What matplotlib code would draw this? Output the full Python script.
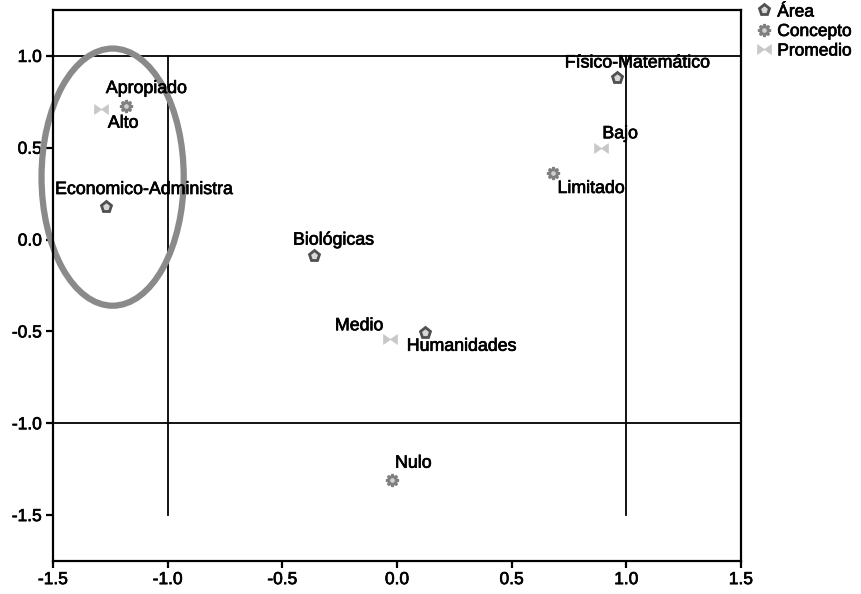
import matplotlib
matplotlib.use("Agg")
import matplotlib.pyplot as plt
from matplotlib.path import Path
from matplotlib.patches import Ellipse
from matplotlib.lines import Line2D
import matplotlib.patheffects as pe

plt.rcParams['font.family'] = ['Liberation Sans', 'DejaVu Sans']

# Data
area_names = ["Físico-Matemático", "Economico-Administra", "Biológicas", "Humanidades"]
area_x = [0.96, -1.27, -0.36, 0.12]
area_y = [0.88, 0.18, -0.09, -0.51]

concepto_names = ["Apropiado", "Limitado", "Nulo"]
concepto_x = [-1.18, 0.68, -0.02]
concepto_y = [0.73, 0.36, -1.31]

promedio_names = ["Alto", "Bajo", "Medio"]
promedio_x = [-1.29, 0.89, -0.03]
promedio_y = [0.71, 0.50, -0.54]

xticks = [-1.5, -1.0, -0.5, 0.0, 0.5, 1.0, 1.5]
yticks = [-1.5, -1.0, -0.5, 0.0, 0.5, 1.0]

# label offsets (pixels): dx, dy
offsets = {
    "Físico-Matemático": (20, 15),
    "Economico-Administra": (38, 17),
    "Biológicas": (19, 16),
    "Humanidades": (37, -13),
    "Apropiado": (20, 17),
    "Limitado": (38, -15),
    "Nulo": (21, 17),
    "Alto": (22, -14),
    "Bajo": (19, 14),
    "Medio": (-31, 13),
}

fig = plt.figure(figsize=(8.61, 5.94), dpi=100)
ax = fig.add_axes([53/861, 33/594, (741-53)/861, (561-10)/594])
ax.set_xlim(-1.5, 1.5)
ax.set_ylim(-1.75, 1.25)

# reference lines
ax.axhline(1.0, color='black', lw=1.3, zorder=1)
ax.axhline(-1.0, color='black', lw=1.3, zorder=1)
ax.plot([-1.0, -1.0], [1.0, -1.5], color='black', lw=1.3, zorder=1)
ax.plot([1.0, 1.0], [1.0, -1.5], color='black', lw=1.3, zorder=1)

bowtie = Path([(-1, -0.7), (-1, 0.7), (0, 0), (1, 0.7), (1, -0.7), (0, 0), (-1, -0.7)],
              [Path.MOVETO, Path.LINETO, Path.LINETO, Path.LINETO, Path.LINETO, Path.LINETO, Path.CLOSEPOLY])

ax.plot(area_x, area_y, ls='none', marker='p', ms=8, mfc='#d8d8d8', mec='#505050', mew=2, zorder=3)
ax.plot(concepto_x, concepto_y, ls='none', marker=(8, 1, 0), ms=9, mfc='#d0d0d0', mec='#808080', mew=1.8, zorder=3)
ax.plot(promedio_x, promedio_y, ls='none', marker=bowtie, ms=10, mfc='#c8c8c8', mec='#c8c8c8', mew=0.5, zorder=3)

stroke = [pe.withStroke(linewidth=0.5, foreground='black')]
for names, xs, ys in [(area_names, area_x, area_y), (concepto_names, concepto_x, concepto_y),
                      (promedio_names, promedio_x, promedio_y)]:
    for n, x, y in zip(names, xs, ys):
        dx, dy = offsets[n]
        ax.annotate(n, (x, y), xytext=(dx, dy), textcoords='offset pixels', ha='center', va='center',
                    fontsize=12.8, color='black', zorder=4, path_effects=stroke)

# ellipse
ell = Ellipse((-1.24, 0.34), 0.62, 1.40, fill=False, edgecolor='#8a8a8a', lw=4.5, clip_on=False, zorder=2)
ax.add_patch(ell)

ax.set_xticks(xticks)
ax.set_yticks(yticks)
ax.set_xticklabels([f"{t:.1f}" for t in xticks])
ax.set_yticklabels([f"{t:.1f}" for t in yticks])
ax.tick_params(direction='out', length=5, width=1.6, labelsize=12.5, colors='black', pad=3)
for lab in ax.get_xticklabels() + ax.get_yticklabels():
    lab.set_path_effects(stroke)
for s in ax.spines.values():
    s.set_linewidth(1.6)

handles = [
    Line2D([], [], ls='none', marker='p', ms=8, mfc='#d8d8d8', mec='#505050', mew=2),
    Line2D([], [], ls='none', marker=(8, 1, 0), ms=9, mfc='#d0d0d0', mec='#808080', mew=1.8),
    Line2D([], [], ls='none', marker=bowtie, ms=10, mfc='#c8c8c8', mec='#c8c8c8', mew=0.5),
]
leg = fig.legend(handles, ["Área", "Concepto", "Promedio"], loc='upper left', bbox_to_anchor=(753/861, 1.0),
                 frameon=False, fontsize=12.5, handlelength=0.8, handletextpad=0.35, labelspacing=0.25,
                 borderaxespad=0.0, borderpad=0.25)
for t in leg.get_texts():
    t.set_path_effects(stroke)

fig.savefig("out.png", dpi=100)
